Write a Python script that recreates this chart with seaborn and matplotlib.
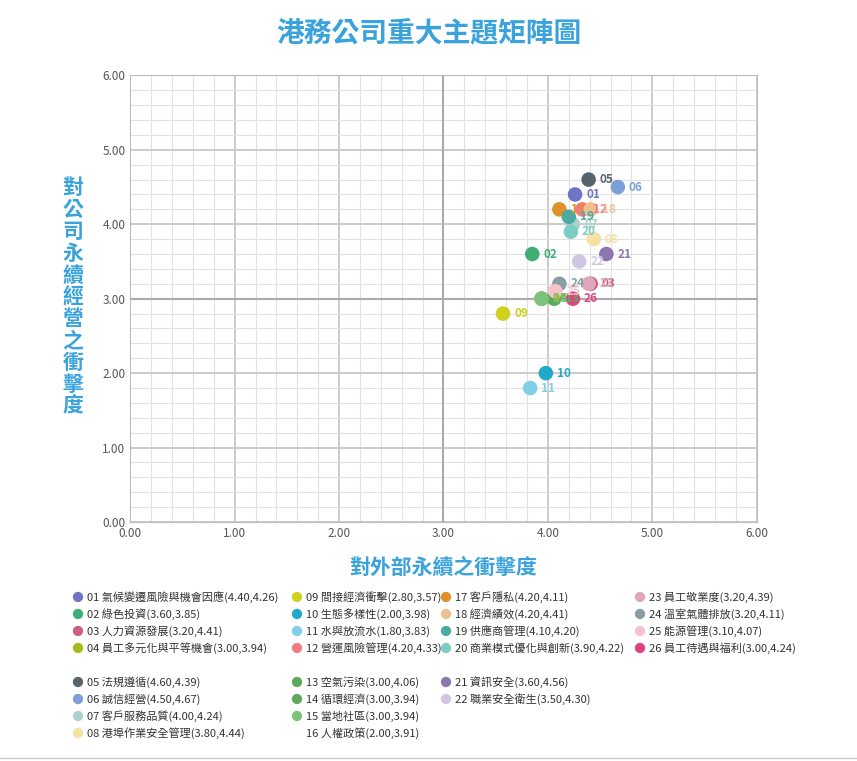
import matplotlib.pyplot as plt
import seaborn as sns
import pandas as pd

# Data: (y = company impact, x = external impact)
codes = ["01", "02", "03", "04", "05", "06", "07", "08", "09", "10", "11", "12", "13",
         "14", "15", "16", "17", "18", "19", "20", "21", "22", "23", "24", "25", "26"]
names = ["氣候變遷風險與機會因應", "綠色投資", "人力資源發展", "員工多元化與平等機會", "法規遵循",
         "誠信經營", "客戶服務品質", "港埠作業安全管理", "間接經濟衝擊", "生態多樣性", "水與放流水",
         "營運風險管理", "空氣污染", "循環經濟", "當地社區", "人權政策", "客戶隱私", "經濟績效",
         "供應商管理", "商業模式優化與創新", "資訊安全", "職業安全衛生", "員工敬業度", "溫室氣體排放",
         "能源管理", "員工待遇與福利"]
y_vals = [4.40, 3.60, 3.20, 3.00, 4.60, 4.50, 4.00, 3.80, 2.80, 2.00, 1.80, 4.20, 3.00,
          3.00, 3.00, 2.00, 4.20, 4.20, 4.10, 3.90, 3.60, 3.50, 3.20, 3.20, 3.10, 3.00]
x_vals = [4.26, 3.85, 4.41, 3.94, 4.39, 4.67, 4.24, 4.44, 3.57, 3.98, 3.83, 4.33, 4.06,
          3.94, 3.94, 3.91, 4.11, 4.41, 4.20, 4.22, 4.56, 4.30, 4.39, 4.11, 4.07, 4.24]
colors = ["#6f74c4", "#3fae74", "#cc5f86", "#a8b91c", "#56646c", "#7d9fd8", "#a9d3cc", "#f4e2a2",
          "#cfd020", "#21a9c8", "#7fcfe9", "#f07b80", "#5aaa5a", "#62a862", "#7cc47c", "#ffffff",
          "#e0902a", "#eebf92", "#4daaa0", "#7ccdc4", "#8c77b0", "#d1c6e2", "#e0a6ba", "#8a9ea6",
          "#f6c2cc", "#e0427f"]

df = pd.DataFrame({"code": codes, "x": x_vals, "y": y_vals})
df = df[df["code"] != "16"]  # 16 has no marker in the chart

plt.rcParams["font.family"] = ["Noto Sans CJK TC", "DejaVu Sans"]
fig = plt.figure(figsize=(8.57, 7.61), dpi=100)
ax = fig.add_axes([0.152, 0.314, 0.731, 0.587])

palette = dict(zip(codes, colors))
sns.scatterplot(data=df, x="x", y="y", hue="code", palette=palette, s=110,
                edgecolor="none", legend=False, ax=ax, zorder=3)
for _, r in df.iterrows():
    ax.annotate(r["code"], (r["x"], r["y"]), xytext=(8, 0), textcoords="offset points",
                va="center", fontsize=8.5, color=palette[r["code"]], fontweight="bold", zorder=4)

ax.set_xlim(0, 6)
ax.set_ylim(0, 6)
ax.set_xticks([0, 1, 2, 3, 4, 5, 6])
ax.set_yticks([0, 1, 2, 3, 4, 5, 6])
ax.set_xticklabels([f"{v:.2f}" for v in range(7)])
ax.set_yticklabels([f"{v:.2f}" for v in range(7)])
ax.set_xticks([i * 0.2 for i in range(31)], minor=True)
ax.set_yticks([i * 0.2 for i in range(31)], minor=True)
ax.grid(which="minor", color="#e2e2e2", lw=0.8)
ax.grid(which="major", color="#c4c4c4", lw=1.2)
ax.axvline(3, color="#aaaaaa", lw=1.5, zorder=1)
ax.axhline(3, color="#aaaaaa", lw=1.5, zorder=1)
ax.set_axisbelow(True)
ax.tick_params(which="both", length=0, labelsize=8.5, colors="#555555")
for s in ax.spines.values():
    s.set_color("#bbbbbb")
ax.set_xlabel("對外部永續之衝擊度", fontsize=15, color="#3aa3dc", fontweight="bold", labelpad=12)
ax.set_ylabel("")
fig.text(0.085, 0.61, "\n".join("對公司永續經營之衝擊度"), ha="center", va="center",
         fontsize=15, color="#3aa3dc", fontweight="bold", linespacing=1.05)
fig.text(0.5, 0.955, "港務公司重大主題矩陣圖", ha="center", va="center",
         fontsize=20, color="#3aa3dc", fontweight="bold")

# legend block
lax = fig.add_axes([0, 0, 1, 0.23])
lax.set_xlim(0, 857)
lax.set_ylim(175, 0)
lax.axis("off")
col_x = [78, 297, 446, 640]
columns = [[0, 1, 2, 3, None, 4, 5, 6, 7], [8, 9, 10, 11, None, 12, 13, 14, 15],
           [16, 17, 18, 19, None, 20, 21], [22, 23, 24, 25]]
row_y = [11, 28, 45, 62, 79, 96, 113, 130, 147]
for cx, col in zip(col_x, columns):
    for ry, i in zip(row_y, col):
        if i is None:
            continue
        if codes[i] != "16":
            lax.scatter(cx, ry, s=55, color=colors[i], edgecolor="none")
        lax.text(cx + 9, ry, f"{codes[i]} {names[i]}({y_vals[i]:.2f},{x_vals[i]:.2f})",
                 va="center", fontsize=8, color="#333333")
lax.plot([0, 857], [172, 172], color="#cccccc", lw=1)

fig.savefig("out.png", dpi=100, facecolor="white")
